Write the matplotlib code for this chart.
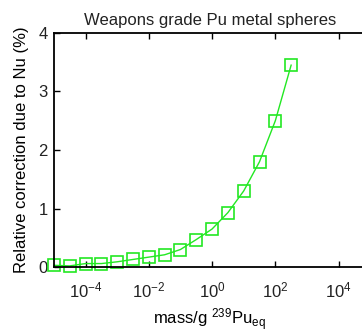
import numpy as np
import matplotlib
matplotlib.use('Agg')
import matplotlib.pyplot as plt
from matplotlib.ticker import NullLocator

# sphere mass (g 239Pu equivalent), half-decade steps
mass_exp = [-5.0, -4.5, -4.0, -3.5, -3.0, -2.5, -2.0, -1.5,
            -1.0, -0.5, 0.0, 0.5, 1.0, 1.5, 2.0, 2.5]
correction = [0.03, 0.02, 0.06, 0.06, 0.09, 0.13, 0.17, 0.21,
              0.30, 0.47, 0.65, 0.93, 1.30, 1.80, 2.50, 3.45]
x_ticks = [1e-4, 1e-2, 1e0, 1e2, 1e4]
y_ticks = [0, 1, 2, 3, 4]

plt.rcParams['font.family'] = ['Liberation Sans', 'DejaVu Sans']
plt.rcParams['mathtext.fontset'] = 'custom'
plt.rcParams['mathtext.rm'] = 'Liberation Sans'
plt.rcParams['mathtext.it'] = 'Liberation Sans'
plt.rcParams['text.color'] = '#222222'

mass = 10.0 ** np.array(mass_exp)

fig = plt.figure(figsize=(3.62, 3.33), dpi=100)
# the box runs on past the right edge of the figure
ax = fig.add_axes([0.149, 0.198, 0.961, 0.703])

ax.plot(mass, correction, color='#22e822', linewidth=1.0,
        marker='s', markersize=8, markerfacecolor='none',
        markeredgecolor='#22e822', markeredgewidth=1.2, clip_on=False)

ax.set_xscale('log')
ax.set_xlim(1e-5, 1e6)
ax.set_ylim(0, 4)
ax.set_xticks(x_ticks)
ax.xaxis.set_minor_locator(NullLocator())
ax.set_yticks(y_ticks)

ax.tick_params(direction='in', length=4, width=1, top=True, right=True,
               labelsize=12, colors='black', labelcolor='#222222')
ax.tick_params(axis='y', pad=4.5)
ax.tick_params(axis='x', pad=10)
for side in ax.spines.values():
    side.set_linewidth(1.3)

ax.set_title('Weapons grade Pu metal spheres', fontsize=12, x=0.448, pad=6)
ax.set_ylabel('Relative correction due to Nu (%)', fontsize=12, labelpad=7)
ax.set_xlabel('mass/g $^{239}$Pu$_{\\mathregular{eq}}$', fontsize=12)
ax.xaxis.set_label_coords(0.448, -0.17)

fig.savefig('out.png', dpi=100)
